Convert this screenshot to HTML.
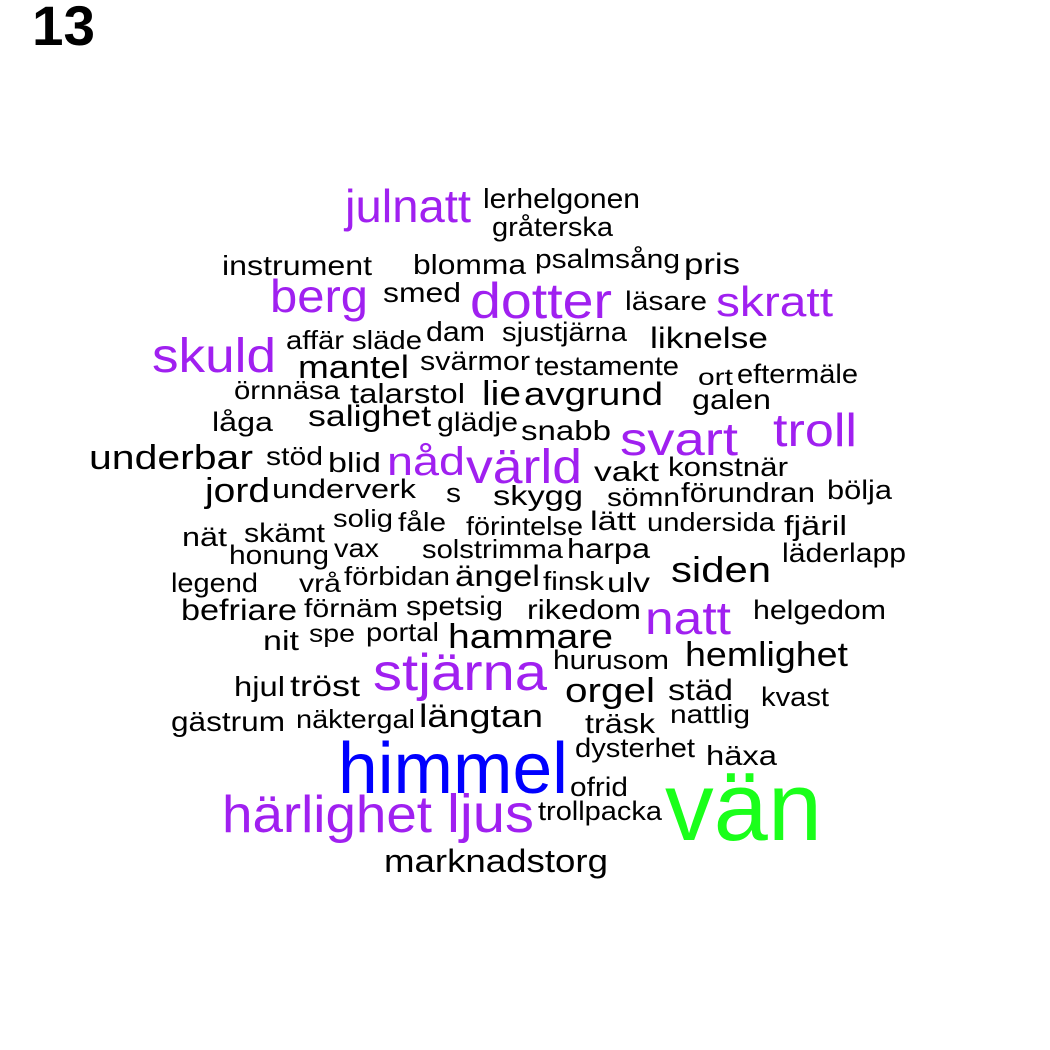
<!DOCTYPE html>
<html><head><meta charset="utf-8">
<style>
html,body{margin:0;padding:0;background:#fff;}
svg{display:block;font-family:"Liberation Sans",Arial,sans-serif;}
</style></head>
<body>
<svg id="cloud" width="1050" height="1050" viewBox="0 0 1050 1050">
<rect width="1050" height="1050" fill="#fff"/>
<text x="32" y="45" font-size="56" font-weight="bold" fill="#000" textLength="63" lengthAdjust="spacingAndGlyphs">13</text>
</svg>
<script>
const P="#a020f0",K="#000",B="#0000ff",G="#1aff1a";
const words=["julnatt","lerhelgonen","gråterska","instrument","blomma","psalmsång","pris","berg","smed","dotter","läsare","skratt","skuld","affär","släde","dam","sjustjärna","liknelse","mantel","svärmor","testamente","ort","eftermäle","örnnäsa","talarstol","lie","avgrund","galen","salighet","glädje","snabb","låga","svart","troll","underbar","stöd","blid","nåd","värld","vakt","konstnär","jord","underverk","s","skygg","sömn","förundran","bölja","nät","skämt","solig","fåle","förintelse","lätt","undersida","fjäril","honung","vax","solstrimma","harpa","läderlapp","legend","vrå","förbidan","ängel","finsk","ulv","siden","befriare","förnäm","spetsig","rikedom","natt","helgedom","nit","spe","portal","hammare","hurusom","hemlighet","stjärna","hjul","tröst","orgel","städ","kvast","gästrum","näktergal","längtan","nattlig","träsk","dysterhet","häxa","himmel","ofrid","vän","härlighet","ljus","trollpacka","marknadstorg"];
const sizes=[46,28,27,28,28,27,30,46,28,50,27,42,48,26,26,28,27,30,32,27,27,23,27,26,28,34,32,28,30,27,28,27,46,46,34,26,28,40,48,28,27,34,27,27,28,26,28,27,27,27,25,26,26,27,26,28,27,26,26,28,27,27,25,26,30,26,28,36,30,26,27,28,46,27,28,25,26,34,27,34,52,28,30,34,30,27,28,26,32,26,28,27,28,72,27,97,52,54,27,32];
const colors=[P,K,K,K,K,K,K,P,K,P,K,P,P,K,K,K,K,K,K,K,K,K,K,K,K,K,K,K,K,K,K,K,P,P,K,K,K,P,P,K,K,K,K,K,K,K,K,K,K,K,K,K,K,K,K,K,K,K,K,K,K,K,K,K,K,K,K,K,K,K,K,K,P,K,K,K,K,K,K,K,P,K,K,K,K,K,K,K,K,K,K,K,K,B,K,G,P,P,K,K];
// layout boxes (left, right, baseline) in px — layout, not data
const box=[[345,471,222],[483,640,208],[492,613,236],[222,372,275],[413,526,274],[535,680,268],[684,740,274],[270,368,312],[383,461,302],[470,612,318],[625,707,310],[716,833,316],[152,276,372],[286,344,349],[352,422,349],[426,485,341],[502,627,341],[650,768,348],[298,409,378],[420,530,370],[535,679,375],[698,733,385],[737,858,383],[234,340,399],[350,465,403],[482,521,405],[524,663,405],[692,771,409],[308,431,426],[437,518,431],[521,611,440],[212,273,431],[620,738,455],[773,857,446],[89,253,469],[266,323,465],[328,381,472],[387,465,475],[466,582,483],[594,659,481],[668,788,476],[205,270,502],[272,416,498],[446,461,502],[493,583,505],[607,680,506],[681,815,502],[827,892,499],[182,227,546],[244,325,542],[333,393,527],[398,446,531],[466,583,535],[590,636,530],[647,775,531],[784,847,535],[229,329,564],[334,379,557],[422,563,558],[567,650,558],[782,906,562],[171,258,592],[299,341,592],[344,450,585],[455,540,586],[543,604,590],[607,650,592],[671,771,582],[181,297,620],[304,398,617],[406,503,615],[527,641,619],[645,731,634],[753,886,619],[263,299,650],[309,355,642],[366,439,641],[448,613,648],[553,669,669],[685,848,666],[373,547,690],[234,285,696],[290,360,696],[565,655,702],[668,733,700],[761,829,706],[171,285,731],[296,415,728],[419,543,727],[670,750,723],[585,655,733],[575,695,757],[706,777,765],[338,568,793],[570,628,796],[665,822,840],[222,432,832],[447,534,832],[538,662,820],[384,608,872]];
const svg=document.getElementById('cloud');
const NS="http://www.w3.org/2000/svg";
words.forEach((w,i)=>{
  const t=document.createElementNS(NS,'text');
  t.setAttribute('x',box[i][0]);
  t.setAttribute('y',box[i][2]);
  t.setAttribute('font-size',sizes[i]);
  t.setAttribute('fill',colors[i]);
  t.setAttribute('textLength',box[i][1]-box[i][0]);
  t.setAttribute('lengthAdjust','spacingAndGlyphs');
  
  
  t.textContent=w;
  svg.appendChild(t);
});
</script>
</body></html>
